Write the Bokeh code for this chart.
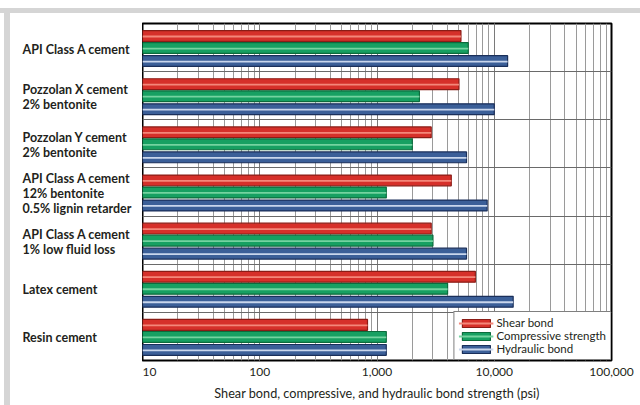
from bokeh.plotting import figure
from bokeh.layouts import row
from bokeh.models import Range1d, FixedTicker, Legend, LegendItem, ColumnDataSource
from bokeh.core.properties import value
from bokeh.embed import file_html
from bokeh.resources import INLINE

categories = [
    "API Class A cement",
    "Pozzolan X cement\n2% bentonite",
    "Pozzolan Y cement\n2% bentonite",
    "API Class A cement\n12% bentonite\n0.5% lignin retarder",
    "API Class A cement\n1% low fluid loss",
    "Latex cement",
    "Resin cement",
]
series_names = ["Shear bond", "Compressive strength", "Hydraulic bond"]
shear_bond = [5200, 5000, 2900, 4300, 2900, 6900, 830]
compressive_strength = [6000, 2300, 2000, 1200, 3000, 4000, 1200]
hydraulic_bond = [13000, 10000, 5800, 8700, 5800, 14500, 1200]
tick_values = [10, 100, 1000, 10000, 100000]
tick_labels = ["10", "100", "1,000", "10,000", "100,000"]
x_label = "Shear bond, compressive, and hydraulic bond strength (psi)"

FONT = "Lato"
TXT = "#231f20"
W, H = 640, 405
LEFT_W = 142
TOP, BOTTOM = 23, 45

n = len(categories)
y_range = Range1d(n, 0)

p = figure(width=W - LEFT_W, height=H, x_axis_type="log",
           x_range=Range1d(tick_values[0], tick_values[-1]), y_range=y_range,
           min_border_left=0, min_border_right=29, min_border_top=TOP, min_border_bottom=BOTTOM,
           output_backend="svg", toolbar_location=None)

p.background_fill_color = "white"
p.border_fill_color = None
p.outline_line_color = "black"
p.outline_line_width = 2

p.yaxis.visible = False
p.ygrid.ticker = FixedTicker(ticks=list(range(1, n)))
p.ygrid.grid_line_color = "#6a6a6a"
p.ygrid.grid_line_width = 1

p.xgrid.grid_line_color = "#7a7a7a"
p.xgrid.minor_grid_line_color = "#9a9a9a"
p.xgrid.grid_line_width = 1
p.xgrid.minor_grid_line_width = 1

ax = p.xaxis[0]
ax.axis_line_color = None
ax.major_tick_line_color = None
ax.minor_tick_line_color = None
ax.major_tick_out = 0
ax.major_tick_in = 0
ax.minor_tick_out = 0
ax.minor_tick_in = 0
ax.major_label_overrides = {v: l for v, l in zip(tick_values, tick_labels)}
ax.major_label_text_font = FONT
ax.major_label_text_font_size = "12px"
ax.major_label_text_color = TXT
ax.major_label_standoff = 7
ax.axis_label = x_label
ax.axis_label_text_font = FONT
ax.axis_label_text_font_size = "12.7px"
ax.axis_label_text_font_style = "normal"
ax.axis_label_text_color = TXT
ax.axis_label_standoff = 6

styles = [
    # fill, outline, stripe, offset within group
    ("#d6302a", "#8a1c16", "#f4877a", -0.24),
    ("#17a062", "#0c6b3c", "#74d3a0", 0.01),
    ("#3b5f98", "#1a2f5a", "#c9d6ec", 0.28),
]
bar_h = 0.225
items = []
for name, vals, (fill, outline, stripe, off) in zip(series_names,
                                                    [shear_bond, compressive_strength, hydraulic_bond],
                                                    styles):
    ys = [i + 0.5 + off for i in range(n)]
    src = ColumnDataSource(dict(y=ys, ys=[y + 0.01 for y in ys], right=vals,
                                left=[tick_values[0]] * n))
    base = p.hbar(y="y", left="left", right="right", height=bar_h, source=src,
                  fill_color=fill, line_color=outline, line_width=1.2)
    st = p.segment(x0="left", y0="ys", x1="right", y1="ys", source=src,
                   line_color=stripe, line_width=1.8)
    items.append(LegendItem(label=name, renderers=[base, st]))

legend = Legend(items=items, location="bottom_right", margin=0, padding=4, spacing=0,
                glyph_width=35, glyph_height=10, label_height=12, label_standoff=3,
                border_line_color="black", border_line_width=1.5,
                background_fill_color="white", background_fill_alpha=1.0,
                label_text_font=FONT, label_text_font_size="11.5px",
                label_text_color=TXT)
p.add_layout(legend)

# category labels in a companion panel sharing the y range
lab = figure(width=LEFT_W, height=H, x_range=Range1d(0, LEFT_W), y_range=y_range,
             min_border_left=0, min_border_right=0, min_border_top=TOP, min_border_bottom=BOTTOM,
             x_axis_location=None, y_axis_location=None,
             output_backend="svg", toolbar_location=None)
lab.grid.visible = False
lab.outline_line_color = None
lab.background_fill_color = None
lab.border_fill_color = None
lab.text(x=[22] * n, y=[i + 0.5 for i in range(n)], text=categories,
         text_font=value(FONT), text_font_size="12.5px", text_font_style="bold",
         text_color=TXT, text_align="left", text_baseline="middle",
         text_line_height=1.0, y_offset=1.5)

band = "#d5d5d5"
layout = row(lab, p, styles={
    "background": (f"linear-gradient({band},{band}) 0px 8px / 100% 5px no-repeat, "
                   f"linear-gradient({band},{band}) 4px 8px / 6px 100% no-repeat"),
})

open("out.html", "w").write(file_html(layout, INLINE))
